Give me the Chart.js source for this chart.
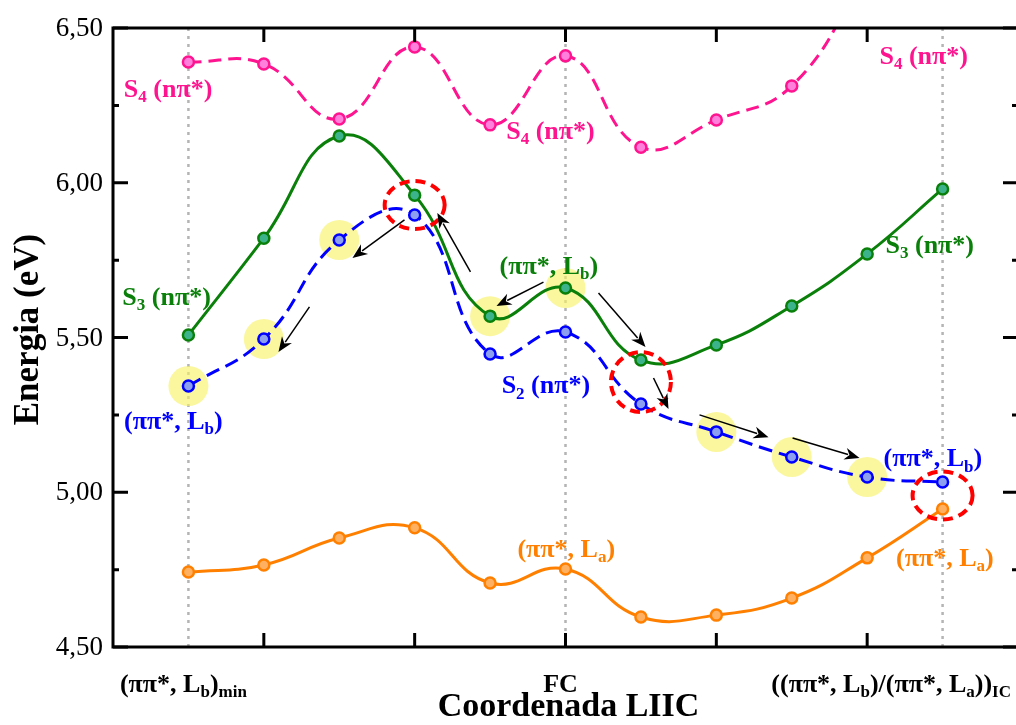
<!DOCTYPE html>
<html>
<head>
<meta charset="utf-8">
<script src="https://cdn.jsdelivr.net/npm/chart.js@4.4.1/dist/chart.umd.min.js"></script>
<style>
  html, body { margin: 0; padding: 0; background: #fff; overflow: hidden; }
  #wrap { width: 1020px; height: 725px; }
</style>
</head>
<body>
<div id="wrap"><canvas id="c" width="1020" height="725"></canvas></div>
<script>
// LIIC steps: 0 = (ππ*, Lb)min, 5 = FC, 10 = ((ππ*, Lb)/(ππ*, La))IC
const steps = [0, 1, 2, 3, 4, 5, 6, 7, 8, 9, 10];

// State energies (eV) along the coordinate
const energyS4 = [6.390, 6.384, 6.206, 6.439, 6.187, 6.410, 6.115, 6.203, 6.313, 6.680];
const energyS3 = [5.508, 5.821, 6.151, 5.960, 5.569, 5.660, 5.427, 5.476, 5.602, 5.770, 5.980];
const energyS2 = [5.343, 5.495, 5.815, 5.896, 5.447, 5.518, 5.285, 5.195, 5.114, 5.049, 5.033];
const energyS1 = [4.742, 4.765, 4.852, 4.885, 4.707, 4.752, 4.597, 4.603, 4.658, 4.788, 4.946];

// Axis ticks
const yMajorTicks = [4.5, 5.0, 5.5, 6.0, 6.5];
const yMinorTicks = [4.75, 5.25, 5.75, 6.25];
const xMajorTicks = [1, 3, 5, 7, 9];
const xGuideSteps = [0, 5, 10];

// Steps where the (ππ*, Lb) character is followed
const highlightStepsS2 = [0, 1, 2, 7, 8, 9];
const highlightStepsS3 = [4, 5];

// Crossing regions: [step, upper state, lower state]
const crossings = [[3, 'S3', 'S2'], [6, 'S3', 'S2'], [10, 'S2', 'S1']];

// Path arrows: [fromStep, fromE, toStep, toE]
const pathArrows = [
  [3.74, 5.712, 3.30, 5.902],
  [2.865, 5.880, 2.175, 5.757],
  [1.605, 5.599, 1.194, 5.453],
  [4.708, 5.679, 4.085, 5.602],
  [5.438, 5.644, 6.061, 5.469],
  [6.167, 5.369, 6.366, 5.269],
  [6.777, 5.250, 7.692, 5.178],
  [8.011, 5.175, 8.899, 5.111]
];

const colors = {
  S4: { line: '#ff1490', fill: '#ff80dc' },
  S3: { line: '#0a800a', fill: '#3cb38a' },
  S2: { line: '#0000ff', fill: '#8c9ff0' },
  S1: { line: '#ff8000', fill: '#ffb060' }
};
const energies = { S4: energyS4, S3: energyS3, S2: energyS2, S1: energyS1 };

// State labels: [state colour, step, energy, text parts]
const stateLabels = [
  ['S4', -0.27, 6.306, [['S'], ['4', 1], [' (nπ*)']]],
  ['S4', 4.80, 6.170, [['S'], ['4', 1], [' (nπ*)']]],
  ['S4', 9.75, 6.413, [['S'], ['4', 1], [' (nπ*)']]],
  ['S3', -0.29, 5.634, [['S'], ['3', 1], [' (nπ*)']]],
  ['S3', 9.83, 5.800, [['S'], ['3', 1], [' (nπ*)']]],
  ['S3', 4.78, 5.734, [['(ππ*, L'], ['b', 1], [')']]],
  ['S2', -0.20, 5.233, [['(ππ*, L'], ['b', 1], [')']]],
  ['S2', 4.74, 5.347, [['S'], ['2', 1], [' (nπ*)']]],
  ['S2', 9.87, 5.111, [['(ππ*, L'], ['b', 1], [')']]],
  ['S1', 5.01, 4.820, [['(ππ*, L'], ['a', 1], [')']]],
  ['S1', 10.03, 4.791, [['(ππ*, L'], ['a', 1], [')']]]
];

// Category labels below the axis
const xLabels = [
  [0, [['(ππ*, L'], ['b', 1], [')'], ['min', 1]]],
  [5, [['FC']]],
  [10, [['((ππ*, L'], ['b', 1], [')/(ππ*, L'], ['a', 1], ['))'], ['IC', 1]]]
];

const SERIF = '"Liberation Serif", "Times New Roman", serif';

function pts(values) {
  return values.map((v, i) => ({ x: steps[i], y: v }));
}

function lineSet(key, dash) {
  return {
    data: pts(energies[key]),
    borderColor: colors[key].line,
    backgroundColor: colors[key].fill,
    borderWidth: 3,
    borderDash: dash,
    tension: 0.45,
    pointRadius: 5.5,
    pointBorderWidth: 2.5,
    pointBorderColor: colors[key].line,
    pointBackgroundColor: colors[key].fill,
    order: 1
  };
}

function highlightSet(stepsList, values) {
  return {
    data: stepsList.map(s => ({ x: s, y: values[s] })),
    showLine: false,
    pointRadius: 20,
    pointBorderWidth: 0,
    pointBackgroundColor: 'rgba(247, 242, 100, 0.62)',
    order: 10
  };
}

function drawRich(ctx, parts, cx, cy, size, color, weight) {
  ctx.save();
  ctx.fillStyle = color;
  ctx.textBaseline = 'alphabetic';
  ctx.textAlign = 'left';
  let w = 0;
  for (const [t, sub] of parts) {
    ctx.font = `${weight} ${sub ? Math.round(size * 0.65) : size}px ${SERIF}`;
    w += ctx.measureText(t).width;
  }
  const maxRight = 1011;
  let x = cx - w / 2;
  if (x + w > maxRight) x = maxRight - w;
  const base = cy + size * 0.33;
  for (const [t, sub] of parts) {
    const s = sub ? Math.round(size * 0.65) : size;
    ctx.font = `${weight} ${s}px ${SERIF}`;
    ctx.fillText(t, x, sub ? base + size * 0.2 : base);
    x += ctx.measureText(t).width;
  }
  ctx.restore();
}

function arrow(ctx, x0, y0, x1, y1) {
  const ang = Math.atan2(y1 - y0, x1 - x0);
  const hl = 15, hw = 6;
  ctx.save();
  ctx.strokeStyle = '#000';
  ctx.fillStyle = '#000';
  ctx.lineWidth = 1.5;
  ctx.beginPath();
  ctx.moveTo(x0, y0);
  ctx.lineTo(x1 - Math.cos(ang) * hl * 0.8, y1 - Math.sin(ang) * hl * 0.8);
  ctx.stroke();
  ctx.beginPath();
  ctx.moveTo(x1, y1);
  ctx.lineTo(x1 - Math.cos(ang) * hl - Math.sin(ang) * hw, y1 - Math.sin(ang) * hl + Math.cos(ang) * hw);
  ctx.lineTo(x1 - Math.cos(ang) * hl * 0.7, y1 - Math.sin(ang) * hl * 0.7);
  ctx.lineTo(x1 - Math.cos(ang) * hl + Math.sin(ang) * hw, y1 - Math.sin(ang) * hl - Math.cos(ang) * hw);
  ctx.closePath();
  ctx.fill();
  ctx.restore();
}

const decorations = {
  id: 'decorations',
  beforeDatasetsDraw(chart) {
    const { ctx, scales: { x, y } } = chart;
    ctx.save();
    ctx.strokeStyle = '#b4b4b4';
    ctx.lineWidth = 2.5;
    ctx.setLineDash([3, 5]);
    for (const s of xGuideSteps) {
      const px = x.getPixelForValue(s);
      ctx.beginPath();
      ctx.moveTo(px, y.getPixelForValue(y.max));
      ctx.lineTo(px, y.getPixelForValue(y.min));
      ctx.stroke();
    }
    ctx.restore();
  },
  afterDatasetsDraw(chart) {
    const { ctx, scales: { x, y } } = chart;
    const left = x.getPixelForValue(x.min), right = x.getPixelForValue(x.max);
    const top = y.getPixelForValue(y.max), bottom = y.getPixelForValue(y.min);

    // crossing regions
    ctx.save();
    ctx.strokeStyle = '#ff0000';
    ctx.lineWidth = 4;
    ctx.setLineDash([10, 6]);
    for (const [s, up, low] of crossings) {
      const cx = x.getPixelForValue(s);
      const cy = y.getPixelForValue((energies[up][s] + energies[low][s]) / 2);
      const ry = Math.max(24, (y.getPixelForValue(energies[low][s]) - y.getPixelForValue(energies[up][s])) / 2 + 8);
      ctx.beginPath();
      ctx.ellipse(cx, cy, 30, ry, 0, 0, Math.PI * 2);
      ctx.stroke();
    }
    ctx.restore();

    // path arrows
    for (const [s0, e0, s1, e1] of pathArrows) {
      arrow(ctx, x.getPixelForValue(s0), y.getPixelForValue(e0), x.getPixelForValue(s1), y.getPixelForValue(e1));
    }

    // state labels
    for (const [key, s, e, parts] of stateLabels) {
      drawRich(ctx, parts, x.getPixelForValue(s), y.getPixelForValue(e), 26, colors[key].line, 'bold');
    }

    // frame and inward ticks
    ctx.save();
    ctx.strokeStyle = '#000';
    ctx.lineWidth = 3;
    ctx.lineCap = 'square';
    ctx.strokeRect(left, top, right - left, bottom - top);
    ctx.lineCap = 'butt';
    ctx.beginPath();
    for (const t of xMajorTicks) {
      const px = x.getPixelForValue(t);
      ctx.moveTo(px, bottom); ctx.lineTo(px, bottom - 14);
      ctx.moveTo(px, top); ctx.lineTo(px, top + 14);
    }
    for (const t of yMajorTicks) {
      const py = y.getPixelForValue(t);
      ctx.moveTo(left, py); ctx.lineTo(left + 15, py);
      ctx.moveTo(right, py); ctx.lineTo(right - 15, py);
    }
    for (const t of yMinorTicks) {
      const py = y.getPixelForValue(t);
      ctx.moveTo(left, py); ctx.lineTo(left + 6, py);
      ctx.moveTo(right, py); ctx.lineTo(right - 6, py);
    }
    ctx.stroke();
    ctx.restore();

    // y tick labels
    ctx.save();
    ctx.fillStyle = '#000';
    ctx.font = `27px ${SERIF}`;
    ctx.textAlign = 'right';
    ctx.textBaseline = 'middle';
    for (const t of yMajorTicks) {
      ctx.fillText(t.toFixed(2).replace('.', ','), left - 10, y.getPixelForValue(t) + 1);
    }
    ctx.restore();

    // category labels
    for (const [s, parts] of xLabels) {
      drawRich(ctx, parts, x.getPixelForValue(s) - 5, bottom + 36, 26, '#000', 'bold');
    }

    // axis titles
    drawRich(ctx, [['Coordenada LIIC']], (left + 1016) / 2 + 4, bottom + 58, 34, '#000', 'bold');
    ctx.save();
    ctx.translate(26, (top + bottom) / 2 - 8);
    ctx.rotate(-Math.PI / 2);
    drawRich(ctx, [['Energia (eV)']], 0, 0, 35, '#000', 'bold');
    ctx.restore();
  }
};

new Chart(document.getElementById('c'), {
  type: 'line',
  data: {
    datasets: [
      highlightSet(highlightStepsS2, energyS2),
      highlightSet(highlightStepsS3, energyS3),
      lineSet('S4', [13, 7]),
      lineSet('S3', []),
      lineSet('S2', [14, 7]),
      lineSet('S1', [])
    ]
  },
  options: {
    responsive: false,
    animation: false,
    events: [],
    layout: { autoPadding: false, padding: { left: 113, right: 2, top: 28, bottom: 78 } },
    plugins: { legend: { display: false }, tooltip: { enabled: false } },
    scales: {
      x: { type: 'linear', min: -1, max: 11, display: false },
      y: { type: 'linear', min: 4.5, max: 6.5, display: false }
    }
  },
  plugins: [decorations]
});
</script>
</body>
</html>
